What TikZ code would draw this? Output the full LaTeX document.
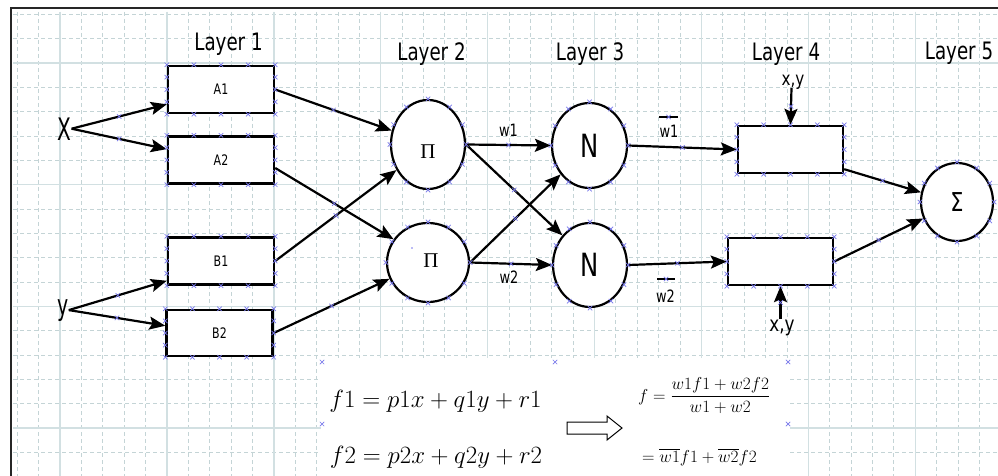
\documentclass[tikz,border=0pt]{standalone}
\usepackage{fontspec}
\usepackage{graphicx}
\usetikzlibrary{shapes.geometric,arrows.meta,calc}
\newfontfamily\dvs{DejaVu Sans}
\newfontfamily\lsr{Liberation Serif}
\definecolor{gridmaj}{RGB}{210,224,226}
\definecolor{gridmin}{RGB}{196,212,214}
\definecolor{mkblue}{RGB}{120,120,235}
\newcommand\sqz[1]{\scalebox{0.76}[1]{#1}}
\newcommand\rmarks[1]{%
  \foreach \t in {0,0.25,0.5,0.75,1}{%
    \pic at ($(#1.north west)!\t!(#1.north east)$) {xm};
    \pic at ($(#1.south west)!\t!(#1.south east)$) {xm};}
  \foreach \t in {0.25,0.5,0.75}{%
    \pic at ($(#1.north west)!\t!(#1.south west)$) {xm};
    \pic at ($(#1.north east)!\t!(#1.south east)$) {xm};}}
\newcommand\emarks[1]{\foreach \a in {0,30,...,330}{\pic at (#1.\a) {xm};}}
\begin{document}
\begin{tikzpicture}[x=1pt,y=-1pt,
  box/.style={draw, line width=2.4pt, minimum width=106pt, minimum height=47pt, inner sep=0pt, fill=white,
    font=\dvs\fontsize{14.5}{17}\selectfont},
  circ/.style={ellipse, draw, line width=2.2pt, inner sep=0pt, fill=white},
  arr/.style={line width=2.2pt, -{Stealth[length=16pt,width=13pt,inset=3pt]}},
  lay/.style={inner sep=0pt, anchor=base, font=\dvs\fontsize{24}{28}\selectfont},
  wl/.style={inner sep=0pt, anchor=base, font=\dvs\fontsize{17}{20}\selectfont},
  xyl/.style={inner sep=0pt, anchor=base, font=\dvs\fontsize{19}{22}\selectfont},
  xm/.pic={\draw[mkblue, line width=0.7pt, -, solid] (-2.2,-2.2) -- (2.2,2.2) (-2.2,2.2) -- (2.2,-2.2);}
]
\useasboundingbox (0,0) rectangle (998,476);
\fill[white] (0,0) rectangle (998,476);
% grid
\begin{scope}
\clip (13,12) rectangle (998,476);
\foreach \x in {17.24,38.62,...,998} \draw[gridmin, line width=0.8pt, dash pattern=on 4pt off 3pt] (\x,12) -- (\x,476);
\foreach \y in {14.34,38.67,...,476} \draw[gridmin, line width=0.8pt, dash pattern=on 4pt off 3pt] (13,\y) -- (998,\y);
\foreach \x in {60,166.9,...,998} \draw[gridmaj, line width=1.4pt] (\x,12) -- (\x,476);
\foreach \y in {63,184.65,...,476} \draw[gridmaj, line width=1.4pt] (13,\y) -- (998,\y);
\end{scope}
\fill[white] (321,358) rectangle (790,476);
\draw[line width=2pt, black!85] (11,476) -- (11,8) -- (998,8);

% layer titles
\node[lay] (L1) at (228.5,50.5) {\sqz{Layer 1}};
\node[lay] (L2) at (431.5,61) {\sqz{Layer 2}};
\node[lay] (L3) at (590,61) {\sqz{Layer 3}};
\node[lay] (L4) at (786,61) {\sqz{Layer 4}};
\node[lay] (L5) at (959,60) {\sqz{Layer 5}};

% inputs
\node[inner sep=0pt, anchor=base, font=\dvs\fontsize{31}{34}\selectfont] (Xl) at (64.5,140) {\scalebox{0.65}[1]{X}};
\node[inner sep=0pt, anchor=base, font=\dvs\fontsize{29}{32}\selectfont] (yl) at (63,315) {\scalebox{0.65}[1]{y}};

% layer 1
\node[box] (A1) at (221,89.5) {\sqz{A1}};
\node[box] (A2) at (221,160) {\sqz{A2}};
\node[box] (B1) at (221,261) {\sqz{B1}};
\node[box, minimum height=46pt] (B2) at (219.5,333) {\sqz{B2}};

% layer 2
\node[circ, minimum width=74pt, minimum height=89pt] (P1) at (428,144.5) {};
\node[circ, minimum width=82pt, minimum height=79pt] (P2) at (428,262.5) {};
\node[inner sep=0pt, anchor=base, font=\lsr\fontsize{21}{24}\selectfont] (pi1) at (428,158) {Π};
\node[inner sep=0pt, anchor=base, font=\lsr\fontsize{21}{24}\selectfont] (pi2) at (431,267) {Π};
\fill[mkblue] (412,248) circle (0.9);

% layer 3
\node[circ, minimum width=75pt, minimum height=85pt, font=\dvs\fontsize{32}{36}\selectfont] (N1) at (589.5,145.5) {\sqz{N}};
\node[circ, minimum width=74pt, minimum height=84pt, font=\dvs\fontsize{32}{36}\selectfont] (N2) at (590,265) {\sqz{N}};

% layer 4
\node[box, minimum width=105pt] (R1) at (790.5,149.5) {};
\node[box, minimum width=105pt] (R2) at (780.5,261.5) {};

% layer 5
\node[circ, minimum width=72pt, minimum height=78pt, font=\dvs\fontsize{26}{30}\selectfont] (S) at (957,202) {\scalebox{0.8}[1]{Σ}};

% labels
\node[wl] (w1) at (508.5,136) {\sqz{w1}};
\node[wl] (w2) at (509,283) {\sqz{w2}};
\node[wl] (w1b) at (669,138) {\sqz{w1}};
\node[wl] (w2b) at (665.5,302) {\sqz{w2}};
\draw[line width=1.8pt] (659,117) -- (678,117);
\draw[line width=1.8pt] (657,279) -- (675,279);
\node[xyl] (xyT) at (793,85.4) {\scalebox{0.8}[1]{x,y}};
\node[xyl, font=\dvs\fontsize{21}{24}\selectfont] (xyB) at (782,331.5) {\scalebox{0.8}[1]{x,y}};
\coordinate (xyTs) at (791.5,88);
\coordinate (xyBs) at (780.5,319);

% connectors
\draw[arr] (Xl.east) -- ($(A1.south west)!0.2!(A1.north west)$) pic[pos=0.5]{xm};
\draw[arr] (Xl.east) -- ($(A2.north west)!0.28!(A2.south west)$) pic[pos=0.5]{xm};
\draw[arr] (yl.east) -- ($(B1.south west)!0.1!(B1.north west)$) pic[pos=0.5]{xm};
\draw[arr] (yl.east) -- ($(B2.north west)!0.35!(B2.south west)$) pic[pos=0.5]{xm};
\draw[arr] (A1.east) -- (P1.159) pic[pos=0.5]{xm};
\draw[arr] ($(A2.east)+(0,8)$) -- (P2.146) pic[pos=0.5]{xm};
\draw[arr] (B1.east) -- (P1.219) pic[pos=0.5]{xm};
\draw[arr] (B2.east) -- (P2.203) pic[pos=0.5]{xm};
\draw[arr] (P1.east) -- (N1.west) pic[pos=0.5]{xm};
\draw[arr] (P1.east) -- (N2.133) pic[pos=0.5]{xm};
\draw[arr] (P2.east) -- (N1.225) pic[pos=0.5]{xm};
\draw[arr] (P2.east) -- (N2.west) pic[pos=0.5]{xm};
\draw[arr] (N1.east) -- (R1.west) pic[pos=0.5]{xm};
\draw[arr] (N2.east) -- (R2.west) pic[pos=0.5]{xm};
\draw[arr] ($(R1.south east)+(0,-5)$) -- (S.165.6) pic[pos=0.5]{xm};
\draw[arr] (R2.east) -- (S.206) pic[pos=0.5]{xm};
\draw[arr] (xyTs) -- (R1.north) pic[pos=0.5]{xm};
\draw[arr] (xyBs) -- (R2.south) pic[pos=0.5]{xm};

% markers on shapes
\rmarks{A1}\rmarks{A2}\rmarks{B1}\rmarks{B2}\rmarks{R1}\rmarks{R2}
\emarks{P1}\emarks{P2}\emarks{N1}\emarks{N2}\emarks{S}
\pic at (668.5,117) {xm};
\pic at (666,279) {xm};

% formulas
\node[inner sep=0pt, anchor=base, font=\fontsize{23}{27}\selectfont] (f1) at (435.5,407) {$f1 = p1x + q1y + r1$};
\node[inner sep=0pt, anchor=base, font=\fontsize{23}{27}\selectfont] (f2) at (436,463) {$f2 = p2x + q2y + r2$};
\draw[line width=1pt, fill=white] (567,422) -- (607,422) -- (607,416) -- (622,428) -- (607,440) -- (607,434) -- (567,434) -- cycle;
\node[inner sep=0pt, anchor=base west, font=\fontsize{17}{20}\selectfont] (ff) at (638,401) {$\displaystyle f = \frac{w1f1 + w2f2}{w1 + w2}$};
\node[inner sep=0pt, anchor=base west, font=\fontsize{17}{20}\selectfont] (fw) at (642,462) {$= \overline{w1}f1 + \overline{w2}f2$};
\foreach \p in {(322,362),(555,362),(788,362),(322,424),(788,424)} \pic at \p {xm};
\end{tikzpicture}
\end{document}
